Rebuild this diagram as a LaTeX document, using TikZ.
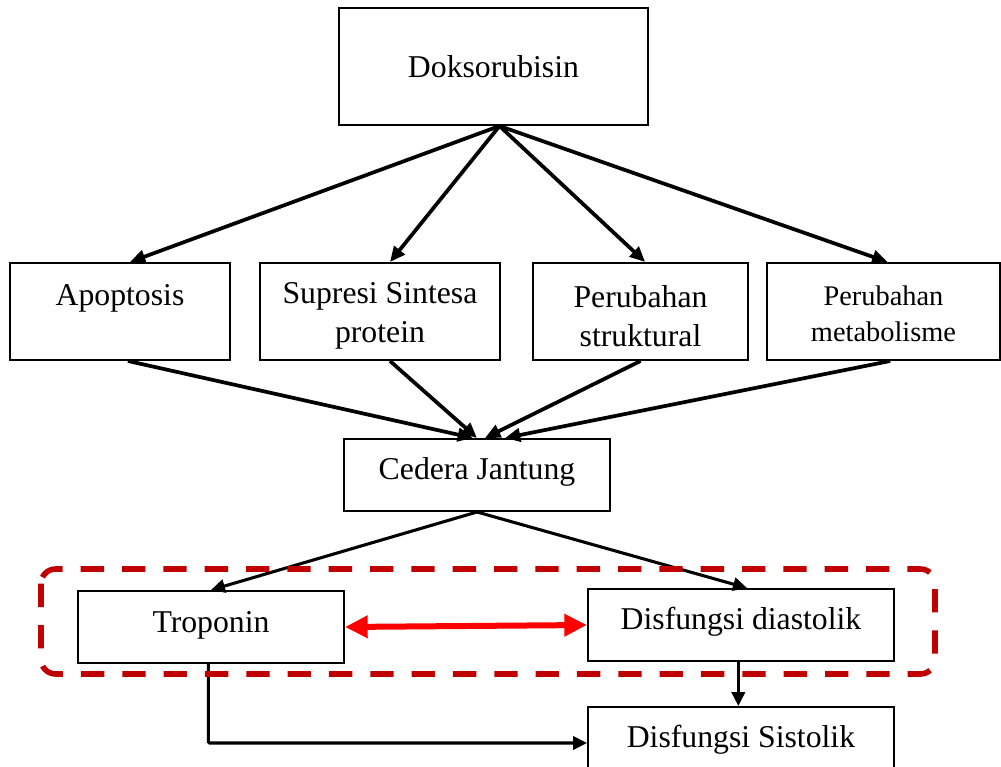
\documentclass[tikz,border=0pt]{standalone}
\usepackage{fontspec}
\setmainfont{Liberation Serif}
\usetikzlibrary{arrows.meta}
\definecolor{darkred}{HTML}{C00000}
\newcommand{\lift}[2]{\raisebox{#1}[\height][\depth]{#2}}

\begin{document}
\begin{tikzpicture}[x=0.75pt, y=-0.75pt,
    box/.style={draw, line width=1.5pt, inner sep=0pt, align=center,
      font=\fontsize{23.8}{29}\selectfont},
    flow/.style={-{Triangle[length=11.5pt,width=10pt]}, line width=2.8pt},
    thin flow/.style={-{Triangle[length=10.5pt,width=10pt]}, line width=2.3pt}]
  \useasboundingbox (0,0) rectangle (1001,767);
  \node[box, minimum width=231.75pt, minimum height=87.75pt] (dok) at (493.5,66.5) {Doksorubisin};
  \node[box, minimum width=165pt, minimum height=72.75pt] (apo) at (120,311.5) {\lift{10pt}{Apoptosis}};
  \node[box, minimum width=180pt, minimum height=72.75pt] (sup) at (380,311.5)
    {\lift{-3.5pt}{Supresi Sintesa}\\\lift{-3.5pt}{protein}};
  \node[box, minimum width=161.25pt, minimum height=72.75pt] (str) at (640.5,311.5)
    {\lift{-3.5pt}{Perubahan}\\\lift{-3.5pt}{struktural}};
  \node[box, minimum width=174.75pt, minimum height=72.75pt,
    font=\fontsize{21.3}{27}\selectfont] (met) at (883.5,311.5)
    {\lift{-2pt}{Perubahan}\\\lift{-2pt}{metabolisme}};
  \node[box, minimum width=199.5pt, minimum height=54pt] (ced) at (477,475) {\lift{2.5pt}{Cedera Jantung}};
  \node[box, minimum width=199.5pt, minimum height=54pt] (tro) at (211,627) {\lift{1.5pt}{Troponin}};
  \node[box, minimum width=229.5pt, minimum height=54pt] (dia) at (741,625) {\lift{2.5pt}{Disfungsi diastolik}};
  \node[box, minimum width=229.5pt, minimum height=54pt] (sis) at (741,743) {\lift{2.5pt}{Disfungsi Sistolik}};

  \draw[flow] ([xshift=4.5pt]dok.south) -- ([xshift=7.5pt]apo.north);
  \draw[flow] ([xshift=4.5pt]dok.south) -- ([xshift=7.5pt]sup.north);
  \draw[flow] ([xshift=4.5pt]dok.south) -- ([xshift=3.5pt]str.north);
  \draw[flow] ([xshift=4.5pt]dok.south) -- ([xshift=3pt]met.north);

  \draw[flow] ([xshift=6pt]apo.south) -- ([xshift=-3pt]ced.north);
  \draw[flow] ([xshift=7.5pt]sup.south) -- (ced.north);
  \draw[flow] (str.south) -- ([xshift=6pt]ced.north);
  \draw[flow] ([xshift=5pt]met.south) -- ([xshift=21pt]ced.north);

  \draw[thin flow] (ced.south) -- (tro.north);
  \draw[thin flow] (ced.south) -- ([xshift=4.5pt]dia.north);
  \draw[thin flow] ([xshift=-2pt]dia.south) -- ([xshift=-2pt]sis.north);
  \draw[thin flow, rounded corners=1pt] ([xshift=-2pt]tro.south) |- (sis.west);

  % grouping of the two markers
  \draw[darkred, line width=4.2pt, dash pattern=on 17.5pt off 13.5pt, rounded corners=11pt]
    (41,569) rectangle (935,674);
  \draw[red, line width=4.5pt, {Triangle[length=17pt,width=16pt]}-{Triangle[length=17pt,width=16pt]}]
    (tro.east) -- (dia.west);
\end{tikzpicture}
\end{document}
